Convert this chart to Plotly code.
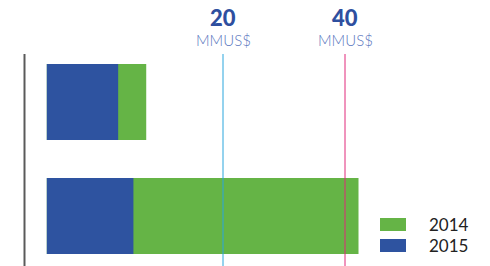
import plotly.graph_objects as go

# Data (MMUS$)
categories = ["Fila inferior", "Fila superior"]
series_names = ["2014", "2015"]
values_2014 = [51.1, 16.3]
values_2015 = [14.2, 11.7]
ref_values = [20, 40]
ref_labels = ["20", "40"]
ref_unit = "MMUS$"

GREEN = "#65b446"
BLUE = "#2e53a0"
REF_COLORS = ["#2aa6dd", "#e0287a"]

# page body margin is removed in the written html, so the figure fills the window
OFF = 0
W, H = 490 - OFF, 266 - OFF


def px(X):
    return (X - OFF) / W


def py(Y):
    return 1 - (Y - OFF) / H


fig = go.Figure()
fig.add_trace(go.Bar(y=categories, x=values_2014, name=series_names[0], orientation="h",
                     marker=dict(color=GREEN, line=dict(width=0)), width=0.667,
                     showlegend=False, hoverinfo="x+name"))
fig.add_trace(go.Bar(y=categories, x=values_2015, name=series_names[1], orientation="h",
                     marker=dict(color=BLUE, line=dict(width=0)), width=0.667,
                     showlegend=False, hoverinfo="x+name"))

px_per_unit = 6.1
bar_origin_px = 46.8 - OFF
ref_origin_px = 101.0 - OFF

shapes = []
annotations = []

# left decorative axis line
shapes.append(dict(type="line", xref="paper", yref="paper", x0=px(24.5), x1=px(24.5),
                   y0=0, y1=py(54), line=dict(color="#5a5a5a", width=2)))

# reference lines on the reference scale (xaxis2)
for v, lab, col in zip(ref_values, ref_labels, REF_COLORS):
    shapes.append(dict(type="line", xref="x2", yref="paper", x0=v, x1=v,
                       y0=0, y1=py(54), line=dict(color=col, width=1)))
    annotations.append(dict(x=v, xref="x2", y=py(17.5), yref="paper", text=lab,
                            showarrow=False, xanchor="center", yanchor="middle", borderpad=0,
                            font=dict(family="Lato", size=22, weight=900, color="#2e4f9f")))
    annotations.append(dict(x=v, xref="x2", y=py(39.5), yref="paper", text=ref_unit,
                            showarrow=False, xanchor="center", yanchor="middle", borderpad=0,
                            font=dict(family="Lato", size=15, weight=300, color="#5b78c0")))

# custom legend
for i, (name, col) in enumerate(zip(series_names, [GREEN, BLUE])):
    y0 = 218 + i * 21
    shapes.append(dict(type="rect", xref="paper", yref="paper", x0=px(380), x1=px(406),
                       y0=py(y0 + 13), y1=py(y0), fillcolor=col, line=dict(width=0)))
    annotations.append(dict(x=px(427), xref="paper", y=py(y0 + 6.5), yref="paper", text=name,
                            showarrow=False, xanchor="left", yanchor="middle",
                            font=dict(family="Lato", size=17, color="#222222")))

# y-range so bar centres sit at window y = 216 (bottom) and 102 (top), 114 px apart
unit_px = 114.0
y_top = 1 + (102 - OFF) / unit_px
y_bot = y_top - H / unit_px

fig.update_layout(
    width=W, height=H,
    margin=dict(l=0, r=0, t=0, b=0),
    paper_bgcolor="white", plot_bgcolor="white",
    barmode="overlay",
    xaxis=dict(range=[-bar_origin_px / px_per_unit, (W - bar_origin_px) / px_per_unit],
               visible=False, fixedrange=True),
    xaxis2=dict(range=[-ref_origin_px / px_per_unit, (W - ref_origin_px) / px_per_unit],
                overlaying="x", visible=False, fixedrange=True),
    yaxis=dict(type="category", categoryorder="array", categoryarray=categories,
               range=[y_bot, y_top], visible=False, fixedrange=True),
    shapes=shapes, annotations=annotations,
    showlegend=False,
)

fig.write_html("out.html", config={"displayModeBar": False},
               post_script="document.body.style.margin='0';document.body.style.overflow='hidden';")
